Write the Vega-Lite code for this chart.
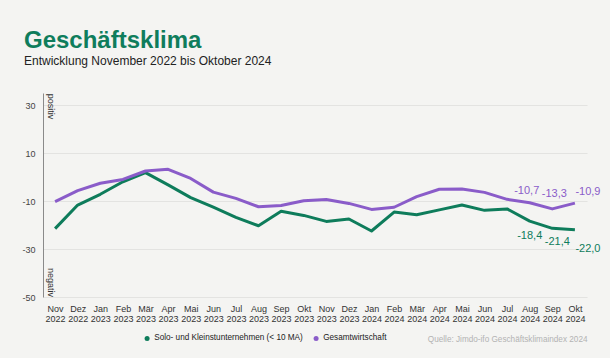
{
  "$schema": "https://vega.github.io/schema/vega-lite/v6.json",
  "width": 544,
  "height": 204,
  "autosize": {"type": "none"},
  "padding": {"left": 43, "top": 93, "right": 23, "bottom": 61},
  "background": "#f4f4f2",
  "title": {
    "text": "Geschäftsklima",
    "subtitle": "Entwicklung November 2022 bis Oktober 2024",
    "anchor": "start",
    "frame": "group",
    "dx": -19,
    "offset": 26,
    "font": "Liberation Sans",
    "fontSize": 24,
    "fontWeight": "bold",
    "color": "#0f7d5c",
    "subtitleFont": "Liberation Sans",
    "subtitleFontSize": 12,
    "subtitleColor": "#222222",
    "subtitlePadding": 3
  },
  "config": {"view": {"stroke": null}, "font": "Liberation Sans"},
  "data": {
    "values": [
      {"monat": "Nov 2022", "serie": "Solo- und Kleinstunternehmen (< 10 MA)", "wert": -21.5},
      {"monat": "Dez 2022", "serie": "Solo- und Kleinstunternehmen (< 10 MA)", "wert": -11.7},
      {"monat": "Jan 2023", "serie": "Solo- und Kleinstunternehmen (< 10 MA)", "wert": -7.2},
      {"monat": "Feb 2023", "serie": "Solo- und Kleinstunternehmen (< 10 MA)", "wert": -2.0},
      {"monat": "Mär 2023", "serie": "Solo- und Kleinstunternehmen (< 10 MA)", "wert": 1.8},
      {"monat": "Apr 2023", "serie": "Solo- und Kleinstunternehmen (< 10 MA)", "wert": -3.3},
      {"monat": "Mai 2023", "serie": "Solo- und Kleinstunternehmen (< 10 MA)", "wert": -8.6},
      {"monat": "Jun 2023", "serie": "Solo- und Kleinstunternehmen (< 10 MA)", "wert": -12.6},
      {"monat": "Jul 2023", "serie": "Solo- und Kleinstunternehmen (< 10 MA)", "wert": -16.8},
      {"monat": "Aug 2023", "serie": "Solo- und Kleinstunternehmen (< 10 MA)", "wert": -20.3},
      {"monat": "Sep 2023", "serie": "Solo- und Kleinstunternehmen (< 10 MA)", "wert": -14.3},
      {"monat": "Okt 2023", "serie": "Solo- und Kleinstunternehmen (< 10 MA)", "wert": -16.0},
      {"monat": "Nov 2023", "serie": "Solo- und Kleinstunternehmen (< 10 MA)", "wert": -18.5},
      {"monat": "Dez 2023", "serie": "Solo- und Kleinstunternehmen (< 10 MA)", "wert": -17.5},
      {"monat": "Jan 2024", "serie": "Solo- und Kleinstunternehmen (< 10 MA)", "wert": -22.5},
      {"monat": "Feb 2024", "serie": "Solo- und Kleinstunternehmen (< 10 MA)", "wert": -14.6},
      {"monat": "Mär 2024", "serie": "Solo- und Kleinstunternehmen (< 10 MA)", "wert": -15.7},
      {"monat": "Apr 2024", "serie": "Solo- und Kleinstunternehmen (< 10 MA)", "wert": -13.7},
      {"monat": "Mai 2024", "serie": "Solo- und Kleinstunternehmen (< 10 MA)", "wert": -11.7},
      {"monat": "Jun 2024", "serie": "Solo- und Kleinstunternehmen (< 10 MA)", "wert": -13.9},
      {"monat": "Jul 2024", "serie": "Solo- und Kleinstunternehmen (< 10 MA)", "wert": -13.3},
      {"monat": "Aug 2024", "serie": "Solo- und Kleinstunternehmen (< 10 MA)", "wert": -18.4, "label": "-18,4"},
      {"monat": "Sep 2024", "serie": "Solo- und Kleinstunternehmen (< 10 MA)", "wert": -21.4, "label": "-21,4"},
      {"monat": "Okt 2024", "serie": "Solo- und Kleinstunternehmen (< 10 MA)", "wert": -22.0, "label": "-22,0"},
      {"monat": "Nov 2022", "serie": "Gesamtwirtschaft", "wert": -10.3},
      {"monat": "Dez 2022", "serie": "Gesamtwirtschaft", "wert": -5.7},
      {"monat": "Jan 2023", "serie": "Gesamtwirtschaft", "wert": -2.6},
      {"monat": "Feb 2023", "serie": "Gesamtwirtschaft", "wert": -1.0},
      {"monat": "Mär 2023", "serie": "Gesamtwirtschaft", "wert": 2.5},
      {"monat": "Apr 2023", "serie": "Gesamtwirtschaft", "wert": 3.2},
      {"monat": "Mai 2023", "serie": "Gesamtwirtschaft", "wert": -0.6},
      {"monat": "Jun 2023", "serie": "Gesamtwirtschaft", "wert": -6.3},
      {"monat": "Jul 2023", "serie": "Gesamtwirtschaft", "wert": -8.9},
      {"monat": "Aug 2023", "serie": "Gesamtwirtschaft", "wert": -12.4},
      {"monat": "Sep 2023", "serie": "Gesamtwirtschaft", "wert": -11.9},
      {"monat": "Okt 2023", "serie": "Gesamtwirtschaft", "wert": -9.9},
      {"monat": "Nov 2023", "serie": "Gesamtwirtschaft", "wert": -9.4},
      {"monat": "Dez 2023", "serie": "Gesamtwirtschaft", "wert": -11.0},
      {"monat": "Jan 2024", "serie": "Gesamtwirtschaft", "wert": -13.5},
      {"monat": "Feb 2024", "serie": "Gesamtwirtschaft", "wert": -12.6},
      {"monat": "Mär 2024", "serie": "Gesamtwirtschaft", "wert": -8.2},
      {"monat": "Apr 2024", "serie": "Gesamtwirtschaft", "wert": -5.1},
      {"monat": "Mai 2024", "serie": "Gesamtwirtschaft", "wert": -5.0},
      {"monat": "Jun 2024", "serie": "Gesamtwirtschaft", "wert": -6.4},
      {"monat": "Jul 2024", "serie": "Gesamtwirtschaft", "wert": -9.3},
      {"monat": "Aug 2024", "serie": "Gesamtwirtschaft", "wert": -10.7, "label": "-10,7"},
      {"monat": "Sep 2024", "serie": "Gesamtwirtschaft", "wert": -13.3, "label": "-13,3"},
      {"monat": "Okt 2024", "serie": "Gesamtwirtschaft", "wert": -10.9, "label": "-10,9"}
    ]
  },
  "encoding": {
    "x": {
      "field": "monat",
      "type": "ordinal",
      "sort": null,
      "scale": {
        "type": "point",
        "padding": 0.535,
        "domain": ["Nov 2022", "Dez 2022", "Jan 2023", "Feb 2023", "Mär 2023", "Apr 2023", "Mai 2023", "Jun 2023", "Jul 2023", "Aug 2023", "Sep 2023", "Okt 2023", "Nov 2023", "Dez 2023", "Jan 2024", "Feb 2024", "Mär 2024", "Apr 2024", "Mai 2024", "Jun 2024", "Jul 2024", "Aug 2024", "Sep 2024", "Okt 2024"]
      },
      "axis": {
        "title": "Quelle: Jimdo-ifo Geschäftsklimaindex 2024",
        "titleAnchor": "end",
        "titleAlign": "right",
        "titleX": 544,
        "titleY": 44,
        "titleBaseline": "alphabetic",
        "titleColor": "#b3b3b3",
        "titleFontSize": 8.2,
        "titleFontWeight": "normal",
        "labelExpr": "split(datum.label, ' ')",
        "labelAngle": 0,
        "labelFontSize": 9,
        "labelColor": "#333333",
        "labelPadding": 7,
        "labelLineHeight": 10,
        "domain": false,
        "ticks": false,
        "grid": false
      }
    },
    "y": {
      "field": "wert",
      "type": "quantitative",
      "scale": {"domain": [-50, 35], "nice": false, "zero": false},
      "axis": {
        "values": [30, 10, -10, -30, -50],
        "title": null,
        "labelExpr": "toString(datum.value)",
        "labelFontSize": 9,
        "labelColor": "#444444",
        "labelPadding": 8,
        "ticks": false,
        "domainColor": "#8a8a8a",
        "gridColor": "#e3e3e1"
      }
    }
  },
  "layer": [
    {
      "data": {"values": [{}]},
      "mark": {"type": "rule", "color": "#9a9a9a", "strokeWidth": 1},
      "encoding": {"x": null, "y": {"datum": 0}}
    },
    {
      "data": {"values": [{"t": "positiv", "v": 29.4}, {"t": "negativ", "v": -44}]},
      "mark": {"type": "text", "angle": 90, "fontSize": 9, "color": "#333333", "dy": 4.5, "align": "center", "baseline": "middle"},
      "encoding": {"x": {"datum": "Nov 2022"}, "y": {"field": "v", "type": "quantitative"}, "text": {"field": "t"}}
    },
    {
      "mark": {"type": "line", "strokeWidth": 3, "strokeJoin": "round"},
      "encoding": {
        "color": {
          "field": "serie",
          "type": "nominal",
          "scale": {"domain": ["Solo- und Kleinstunternehmen (< 10 MA)", "Gesamtwirtschaft"], "range": ["#0e7c5b", "#8a5cc9"]},
          "legend": {
            "orient": "none",
            "legendX": 100,
            "legendY": 241,
            "direction": "horizontal",
            "title": null,
            "symbolType": "circle",
            "symbolSize": 25,
            "symbolStrokeWidth": 0,
            "labelFontSize": 8.2,
            "labelLimit": 400,
            "labelOffset": 3,
            "labelColor": "#222222",
            "columnPadding": 9,
            "encode": {"symbols": {"update": {"fill": {"scale": "color", "field": "value"}}}}
          }
        }
      }
    },
    {
      "transform": [{"filter": "datum.serie == 'Gesamtwirtschaft' && datum.monat == 'Aug 2024'"}],
      "mark": {"type": "text", "fontSize": 11, "color": "#8a5cc9", "dx": -3, "dy": -12},
      "encoding": {"text": {"field": "label"}}
    },
    {
      "transform": [{"filter": "datum.serie == 'Gesamtwirtschaft' && datum.monat == 'Sep 2024'"}],
      "mark": {"type": "text", "fontSize": 11, "color": "#8a5cc9", "dx": 2, "dy": -15},
      "encoding": {"text": {"field": "label"}}
    },
    {
      "transform": [{"filter": "datum.serie == 'Gesamtwirtschaft' && datum.monat == 'Okt 2024'"}],
      "mark": {"type": "text", "fontSize": 11, "color": "#8a5cc9", "dx": 13, "dy": -11},
      "encoding": {"text": {"field": "label"}}
    },
    {
      "transform": [{"filter": "datum.serie != 'Gesamtwirtschaft' && datum.monat == 'Aug 2024'"}],
      "mark": {"type": "text", "fontSize": 11, "color": "#0e7c5b", "dx": 0, "dy": 14.5},
      "encoding": {"text": {"field": "label"}}
    },
    {
      "transform": [{"filter": "datum.serie != 'Gesamtwirtschaft' && datum.monat == 'Sep 2024'"}],
      "mark": {"type": "text", "fontSize": 11, "color": "#0e7c5b", "dx": 5, "dy": 14},
      "encoding": {"text": {"field": "label"}}
    },
    {
      "transform": [{"filter": "datum.serie != 'Gesamtwirtschaft' && datum.monat == 'Okt 2024'"}],
      "mark": {"type": "text", "fontSize": 11, "color": "#0e7c5b", "dx": 13, "dy": 19.5},
      "encoding": {"text": {"field": "label"}}
    }
  ]
}
